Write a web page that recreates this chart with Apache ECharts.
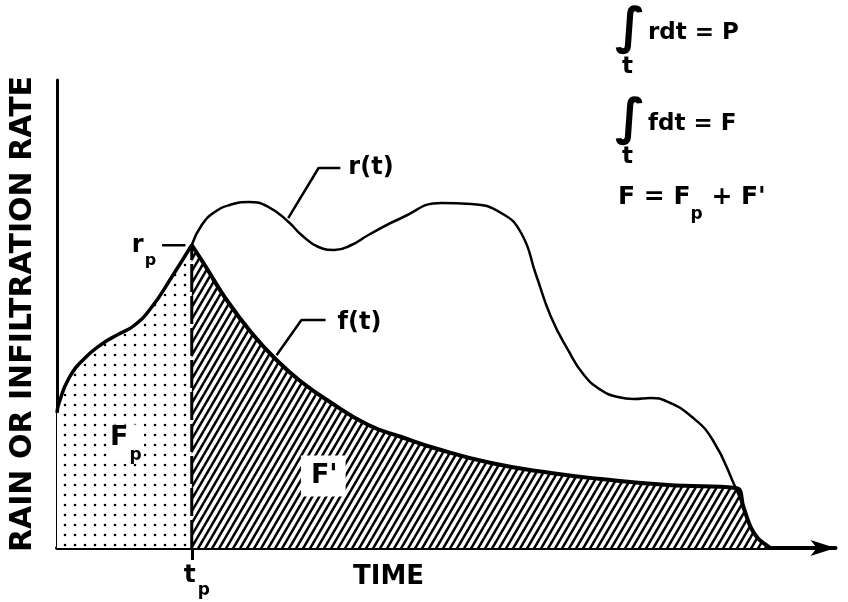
<!DOCTYPE html>
<html>
<head>
<meta charset="utf-8">
<script src="https://cdn.jsdelivr.net/npm/echarts@6/dist/echarts.min.js"></script>
<style>
  html, body { margin: 0; padding: 0; background: #ffffff; }
  #chart { width: 848px; height: 602px; }
</style>
</head>
<body>
<div id="chart"></div>
<script>
// Rainfall rate r(t)
const rainTime = [0, 0.26, 1.54, 3.59, 5.77, 7.95, 10.0, 12.18, 14.74, 17.31, 18.59, 20.26, 22.18, 24.62, 27.18, 29.74, 31.41, 33.59, 35.64, 37.82, 40.0, 44.23, 49.36, 53.21, 57.05, 59.62, 61.54, 63.46, 65.64, 67.69, 69.87, 72.05, 74.10, 76.28, 78.46, 81.41, 84.23, 87.18, 88.21, 89.10, 90.0, 91.28, 91.67];
const rainRate = [28.85, 30.98, 36.32, 40.60, 43.59, 45.73, 47.65, 51.50, 57.91, 64.74, 69.02, 71.79, 73.29, 73.93, 72.86, 69.66, 66.88, 64.32, 63.68, 64.74, 66.88, 70.51, 73.72, 73.50, 71.58, 67.31, 58.33, 49.36, 42.31, 36.97, 33.76, 32.26, 31.84, 32.05, 31.20, 28.21, 23.08, 12.82, 8.55, 4.49, 2.14, 0.43, 0];

// Infiltration rate f(t) after ponding
const infilTime = [17.31, 18.97, 21.54, 25.0, 28.46, 31.41, 34.87, 40.0, 44.23, 48.46, 55.77, 63.46, 69.87, 78.46, 87.18, 88.21, 89.10, 90.0, 91.28, 91.67];
const infilRate = [64.74, 60.47, 53.63, 45.94, 39.74, 35.47, 31.41, 26.28, 23.72, 21.37, 18.16, 16.03, 14.74, 13.46, 12.82, 8.55, 4.49, 2.14, 0.43, 0];

// Ponding time t_p and rainfall rate at ponding r_p
const pondTime = 17.31;
const pondRate = 64.74;

// Leader lines for the curve labels
const rLeaderTime = [29.7, 33.6, 36.4];
const rLeaderRate = [70.5, 81.2, 81.2];
const fLeaderTime = [28.2, 31.4, 34.5];
const fLeaderRate = [41.2, 48.7, 48.7];
const rpLeaderTime = [13.5, 16.5];
const rpLeaderRate = [64.7, 64.7];

// Area labels
const fpLabelAt = [8.85, 22.2];
const fPrimeLabelAt = [34.2, 15.4];

const FONT = '"DejaVu Sans", sans-serif';
const zip = (xs, ys) => xs.map((x, i) => [x, ys[i]]);

// Diagonal hatching for F'
function hatchPattern() {
  const w = 7, h = 12;
  const c = document.createElement('canvas');
  c.width = w; c.height = h;
  const g = c.getContext('2d');
  g.fillStyle = '#ffffff';
  g.fillRect(0, 0, w, h);
  g.strokeStyle = '#000000';
  g.lineWidth = 2.5;
  for (let k = -1; k <= 1; k++) {
    const off = k * w;
    g.beginPath();
    g.moveTo(off + w * (h + 3) / h, -3);
    g.lineTo(off - w * 3 / h, h + 3);
    g.stroke();
  }
  return c;
}

// Stipple for F_p
function dotPattern() {
  const s = 10;
  const c = document.createElement('canvas');
  c.width = s; c.height = s;
  const g = c.getContext('2d');
  g.fillStyle = '#ffffff';
  g.fillRect(0, 0, s, s);
  g.fillStyle = '#000000';
  g.beginPath();
  g.arc(5, 5, 1.3, 0, Math.PI * 2);
  g.fill();
  return c;
}

const beforePond = zip(rainTime, rainRate).filter(p => p[0] <= pondTime);
const afterPond = zip(rainTime, rainRate).filter(p => p[0] >= pondTime);

const subRich = (big, small, lead, gap) => ({
  a: { fontFamily: FONT, fontWeight: 'bold', fontSize: big, color: '#000', verticalAlign: 'top', lineHeight: Math.round(big * 1.45), padding: [0, 0, 0, lead || 0] },
  s: { fontFamily: FONT, fontWeight: 'bold', fontSize: small, color: '#000', verticalAlign: 'bottom', lineHeight: Math.round(big * 1.45), padding: [0, 0, 0, gap || 0] }
});

const lineBase = {
  type: 'line', showSymbol: false, symbol: 'none', silent: true,
  emphasis: { disabled: true }, animation: false
};

const chart = echarts.init(document.getElementById('chart'), null, { renderer: 'canvas' });

chart.setOption({
  backgroundColor: '#ffffff',
  animation: false,
  grid: { left: 55, right: 12.5, top: 80, bottom: 54, containLabel: false },
  xAxis: {
    type: 'value', min: 0, max: 100,
    axisLine: {
      show: true, onZero: false,
      symbol: ['none', 'arrow'], symbolSize: [12, 25],
      lineStyle: { color: '#000', width: 4 }
    },
    axisTick: { show: true, customValues: [pondTime], length: 12, lineStyle: { color: '#000', width: 3 } },
    axisLabel: {
      show: true, customValues: [pondTime], margin: 15,
      formatter: () => '{a|t}{s|p}',
      rich: subRich(25, 17, 10, 2)
    },
    splitLine: { show: false }
  },
  yAxis: {
    type: 'value', min: 0, max: 100,
    axisLine: { show: true, onZero: false, lineStyle: { color: '#000', width: 3 } },
    axisTick: { show: false },
    axisLabel: { show: false },
    splitLine: { show: false },
    name: 'RAIN OR INFILTRATION RATE',
    nameLocation: 'middle',
    nameGap: 19,
    nameTextStyle: { fontFamily: FONT, fontWeight: 'bold', fontSize: 30, color: '#000' }
  },
  graphic: [
    { type: 'text', left: 353, top: 564, style: { text: 'TIME', font: 'bold 26px ' + FONT, fill: '#000' } },
    { type: 'text', left: 615, top: 5, style: { text: '\u222B', font: 'bold 50px ' + FONT, fill: '#000' } },
    { type: 'text', left: 622, top: 56, style: { text: 't', font: 'bold 23px ' + FONT, fill: '#000' } },
    { type: 'text', left: 648, top: 22, style: { text: 'rdt = P', font: 'bold 23px ' + FONT, fill: '#000' } },
    { type: 'text', left: 615, top: 96, style: { text: '\u222B', font: 'bold 50px ' + FONT, fill: '#000' } },
    { type: 'text', left: 622, top: 146, style: { text: 't', font: 'bold 23px ' + FONT, fill: '#000' } },
    { type: 'text', left: 648, top: 113, style: { text: 'fdt = F', font: 'bold 23px ' + FONT, fill: '#000' } },
    {
      type: 'text', left: 618, top: 185,
      style: {
        text: '{a|F = F}{s|p}{a| + F\'}',
        rich: {
          a: { fontFamily: FONT, fontWeight: 'bold', fontSize: 25, fill: '#000', verticalAlign: 'top', lineHeight: 38 },
          s: { fontFamily: FONT, fontWeight: 'bold', fontSize: 17, fill: '#000', verticalAlign: 'bottom', lineHeight: 38 }
        }
      }
    }
  ],
  series: [
    // rainfall before ponding, stippled area F_p
    Object.assign({}, lineBase, {
      name: 'r before ponding',
      data: beforePond,
      smooth: 0.5,
      lineStyle: { color: '#000', width: 3.5 },
      areaStyle: { color: { image: dotPattern(), repeat: 'repeat' }, opacity: 1 },
      z: 3
    }),
    // infiltration after ponding, hatched area F'
    Object.assign({}, lineBase, {
      name: 'f(t)',
      data: zip(infilTime, infilRate),
      smooth: 0.5,
      lineStyle: { color: '#000', width: 4 },
      areaStyle: { color: { image: hatchPattern(), repeat: 'repeat' }, opacity: 1 },
      z: 4
    }),
    // rainfall after ponding
    Object.assign({}, lineBase, {
      name: 'r(t)',
      data: afterPond,
      smooth: 0.5,
      lineStyle: { color: '#000', width: 2.5 },
      z: 5
    }),
    // ponding time divider
    Object.assign({}, lineBase, {
      name: 'tp',
      data: [[pondTime, 0], [pondTime, pondRate]],
      lineStyle: { color: '#000', width: 3, type: [28, 4] },
      z: 6
    }),
    // leaders
    Object.assign({}, lineBase, { data: zip(rLeaderTime, rLeaderRate), lineStyle: { color: '#000', width: 2.5 }, z: 6 }),
    Object.assign({}, lineBase, { data: zip(fLeaderTime, fLeaderRate), lineStyle: { color: '#000', width: 2.5 }, z: 6 }),
    Object.assign({}, lineBase, { data: zip(rpLeaderTime, rpLeaderRate), lineStyle: { color: '#000', width: 2.5 }, z: 6 }),
    // text labels
    {
      type: 'scatter', silent: true, symbolSize: 0, animation: false, z: 7,
      itemStyle: { opacity: 1, color: '#000' },
      data: [
        { value: [rLeaderTime[2], rLeaderRate[2]], label: { show: true, position: 'right', distance: 8, formatter: 'r(t)', fontFamily: FONT, fontWeight: 'bold', fontSize: 24, color: '#000' } },
        { value: [fLeaderTime[2], fLeaderRate[2]], label: { show: true, position: 'right', distance: 12, offset: [0, 3], formatter: 'f(t)', fontFamily: FONT, fontWeight: 'bold', fontSize: 24, color: '#000' } },
        { value: [rpLeaderTime[0], rpLeaderRate[0]], label: { show: true, position: 'left', distance: 6, offset: [0, 6], formatter: '{a|r}{s|p}', rich: subRich(24, 16, 0, 1) } },
        { value: fpLabelAt, label: { show: true, position: 'inside', formatter: '{a|F}{s|p}', rich: subRich(27, 17, 0, 1), backgroundColor: '#fff', padding: [0, 2, 0, 2] } },
        { value: fPrimeLabelAt, label: { show: true, position: 'inside', formatter: 'F\'', fontFamily: FONT, fontWeight: 'bold', fontSize: 27, color: '#000', backgroundColor: '#fff', padding: [8, 8, 6, 10] } }
      ]
    }
  ]
});
</script>
</body>
</html>
